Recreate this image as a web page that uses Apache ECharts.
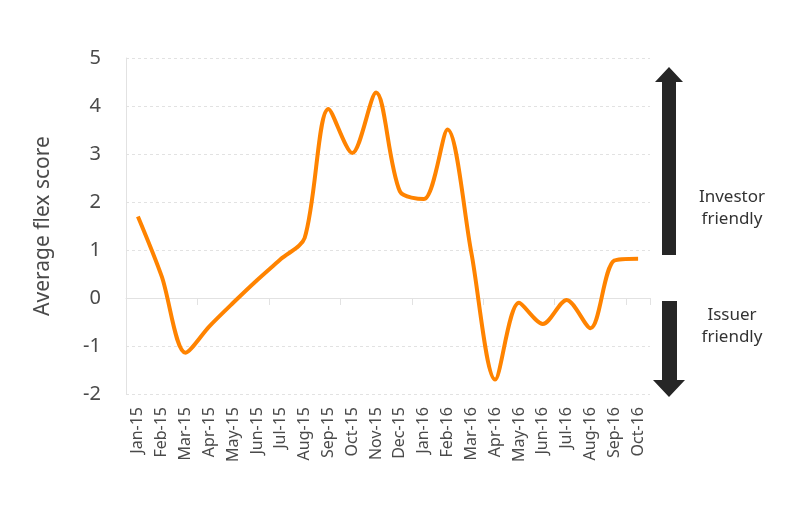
<!DOCTYPE html>
<html>
<head>
<meta charset="utf-8">
<script src="https://cdn.jsdelivr.net/npm/echarts@6/dist/echarts.min.js"></script>
<style>
  html, body {margin: 0; padding: 0; background: #fff;}
  #main {width: 800px; height: 517px;}
</style>
</head>
<body>
<div id="main"></div>
<script>
var months = ['Jan-15', 'Feb-15', 'Mar-15', 'Apr-15', 'May-15', 'Jun-15', 'Jul-15', 'Aug-15',
    'Sep-15', 'Oct-15', 'Nov-15', 'Dec-15', 'Jan-16', 'Feb-16', 'Mar-16', 'Apr-16',
    'May-16', 'Jun-16', 'Jul-16', 'Aug-16', 'Sep-16', 'Oct-16'];
var flexScore = [1.70, 0.45, -1.14, -0.59, -0.10, 0.37, 0.81, 1.25,
    3.94, 3.02, 4.28, 2.22, 2.06, 3.51, 0.94, -1.70,
    -0.10, -0.54, -0.04, -0.63, 0.78, 0.82];
var yTicks = {min: -2, max: 5, step: 1};

var chart = echarts.init(document.getElementById('main'));
var font = '"Noto Sans", "Open Sans", sans-serif';

chart.setOption({
    animation: false,
    grid: {left: 126, right: 150, top: 58, bottom: 123},
    xAxis: [
        {
            type: 'category',
            data: months,
            axisLine: {show: false, onZero: false},
            axisTick: {show: false},
            axisLabel: {rotate: 90, margin: 13, fontSize: 16, color: '#4a4a4a', fontFamily: font, interval: 0}
        },
        {
            // the solid line at zero with its ticks
            type: 'category',
            data: months,
            position: 'bottom',
            axisLine: {onZero: true, lineStyle: {color: '#e2e2e2', width: 1}},
            axisTick: {show: true, length: 7, lineStyle: {color: '#e2e2e2'}},
            axisLabel: {show: false}
        }
    ],
    yAxis: {
        type: 'value',
        min: yTicks.min,
        max: yTicks.max,
        interval: yTicks.step,
        name: 'Average flex score',
        nameLocation: 'middle',
        nameGap: 72,
        nameTextStyle: {fontSize: 21, color: '#4a4a4a', fontFamily: font},
        axisLine: {show: true, lineStyle: {color: '#e2e2e2'}},
        axisTick: {show: false},
        axisLabel: {fontSize: 20, color: '#4a4a4a', margin: 25, fontFamily: font},
        splitLine: {lineStyle: {color: '#e2e2e2', type: [3, 3]}}
    },
    series: [{
        type: 'line',
        data: flexScore,
        smooth: 0.3,
        symbol: 'none',
        lineStyle: {color: '#ff8300', width: 4}
    }],
    graphic: [
        {
            type: 'polygon',
            shape: {points: [[669, 67], [683, 82], [676, 82], [676, 255], [662, 255], [662, 82], [655, 82]]},
            style: {fill: '#262626'}
        },
        {
            type: 'polygon',
            shape: {points: [[662, 301], [677, 301], [677, 380], [685, 380], [669, 397], [653, 380], [662, 380]]},
            style: {fill: '#262626'}
        },
        {
            type: 'text',
            x: 732, y: 208,
            style: {text: 'Investor\nfriendly', align: 'center', verticalAlign: 'middle',
                fontSize: 17, lineHeight: 22, fill: '#333', fontFamily: font}
        },
        {
            type: 'text',
            x: 732, y: 326,
            style: {text: 'Issuer\nfriendly', align: 'center', verticalAlign: 'middle',
                fontSize: 17, lineHeight: 22, fill: '#333', fontFamily: font}
        }
    ]
});
</script>
</body>
</html>
